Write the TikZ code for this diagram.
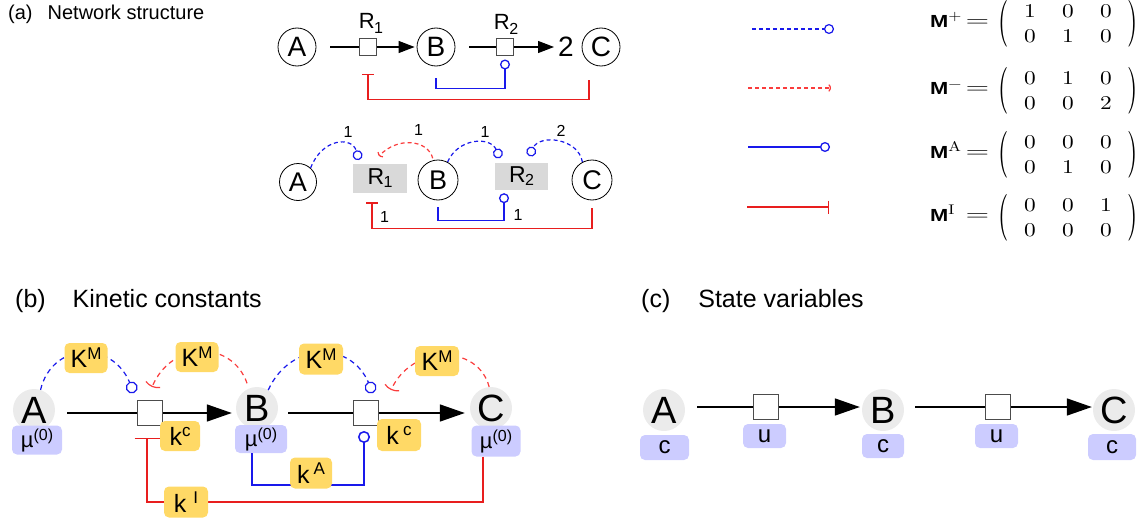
\documentclass[tikz,border=0pt]{standalone}
\usepackage[no-math]{fontspec}
\setmainfont{Liberation Sans}
\newfontfamily\lmr{lmroman10-regular.otf}
\usepackage{graphicx}
\usetikzlibrary{arrows.meta,calc}
\definecolor{bl}{RGB}{25,25,235}
\definecolor{rd}{RGB}{232,30,30}
\definecolor{rdl}{RGB}{250,60,60}
\definecolor{ycol}{RGB}{255,217,102}
\definecolor{lcol}{RGB}{204,204,255}
\definecolor{gcol}{RGB}{235,235,235}
\definecolor{gbcol}{RGB}{217,217,217}
\newcommand{\supr}[2]{\raisebox{#1}{\fontsize{17}{17}\selectfont #2}}
\newcommand{\subr}[2]{\raisebox{#1}{\fontsize{16}{16}\selectfont #2}}
\newcommand{\Mb}{\scalebox{1.25}[1]{\fontsize{17.5}{17.5}\selectfont\bfseries M}}
\newcommand{\muz}{\textmu\raisebox{7pt}{\fontsize{16}{16}\selectfont(0)}}
\newcommand{\msup}[1]{\raisebox{7pt}{\scalebox{1.2}[1]{\lmr\fontsize{14}{14}\selectfont #1}}}
\newcommand{\lpar}{\scalebox{1.1}[1.95]{\lmr\fontsize{24}{24}\selectfont (}}
\newcommand{\rpar}{\scalebox{1.1}[1.95]{\lmr\fontsize{24}{24}\selectfont )}}
\newcommand{\eqs}{\scalebox{1.6}[1]{\lmr\fontsize{19}{19}\selectfont =}}
\begin{document}
\begin{tikzpicture}[x=1pt,y=-1pt,
  txt/.style={inner sep=0pt},
  acirc/.style={circle, draw, line width=0.8pt, minimum size=38pt, inner sep=0pt, font=\fontsize{28}{28}\selectfont},
  gcirc/.style={circle, fill=gcol, minimum size=42pt, inner sep=0pt, font=\fontsize{38}{38}\selectfont},
  rsq/.style={draw=gray!60!black, fill=white, minimum size=#1, inner sep=0pt, line width=1pt},
  gbox/.style={fill=gbcol, minimum width=54pt, minimum height=29pt, inner sep=0pt, font=\fontsize{23}{23}\selectfont},
  ybox/.style={fill=ycol, rounded corners=5pt, inner sep=0pt, minimum width=43pt, minimum height=30pt, font=\fontsize{25}{25}\selectfont},
  lbox/.style={fill=lcol, rounded corners=5pt, inner sep=0pt, minimum width=50pt, minimum height=29pt, font=\fontsize{22}{22}\selectfont},
  cbox/.style={fill=lcol, rounded corners=5pt, inner sep=0pt, font=\fontsize{24}{24}\selectfont},
  num/.style={inner sep=0pt, font=\fontsize{16}{16}\selectfont},
  dig/.style={inner sep=0pt, font=\lmr\fontsize{19.5}{19.5}\selectfont},
  mlab/.style={inner sep=0pt, anchor=base west},
  par/.style={inner sep=0pt},
  rxa/.style={line width=1.2pt},
  mainl/.style={line width=1.6pt},
  bdash/.style={bl, line width=1.2pt, dash pattern=on 4pt off 3pt},
  rdash/.style={rdl, line width=1.2pt, dash pattern=on 4pt off 3pt},
  bsol/.style={bl, line width=1.3pt},
  rsol/.style={rd, line width=1.3pt},
  ocirc/.style={-{Circle[open,length=10pt,width=10pt]}},
  ocircB/.style={-{Circle[open,length=12pt,width=12pt]}},
  arcb/.style={-{Arc Barb[arc=100,length=5pt,width=10pt]}},
  arcbB/.style={-{Arc Barb[arc=60,length=16pt,width=32pt]}},
  tria/.style={-{Triangle[length=16pt,width=12pt]}},
  triB/.style={-{Triangle[length=25pt,width=17pt]}}
]
\useasboundingbox (0,0) rectangle (1148,527);

% ---------- titles
\node[txt, anchor=base west, font=\fontsize{20}{20}\selectfont] (ta) at (8,20) {(a)\hspace{15pt}Network structure};
\node[txt, anchor=base west, font=\fontsize{25}{25}\selectfont] (tb) at (15,307) {(b)\hspace{27pt}Kinetic constants};
\node[txt, anchor=base west, font=\fontsize{25}{25}\selectfont] (tc) at (641,307) {(c)\hspace{28pt}State variables};

% ---------- (a) top row
\node[acirc] (A1) at (297,47) {A};
\node[rsq=17pt] (R1) at (368,47) {};
\node[acirc] (B1) at (436,47) {B};
\node[rsq=17pt] (R2) at (505,47) {};
\node[acirc] (C1) at (601,47) {C};
\node[txt, font=\fontsize{28}{28}\selectfont] (two) at (566,47) {2};
\node[txt, font=\fontsize{22}{22}\selectfont] (lR1) at (371,23) {R\kern-0.5pt\subr{-5pt}{1}};
\node[txt, font=\fontsize{22}{22}\selectfont] (lR2) at (506,24) {R\kern-0.5pt\subr{-5pt}{2}};
\draw[rxa] ([xshift=14pt]A1.east) -- (R1.west);
\draw[rxa, tria] (R1.east) -- ([xshift=-2pt]B1.west);
\draw[rxa] ([xshift=14pt]B1.east) -- (R2.west);
\draw[rxa, tria] (R2.east) -- ([xshift=-4pt]two.west);
\draw[bsol, ocirc] ([yshift=-12pt]B1.south) -- ++(0,10) -| ([yshift=-3.5pt]R2.south);
\draw[rsol, -{Bar[width=12pt]}] ([xshift=-12pt,yshift=-14pt]C1.south) -- ++(0,19) -| ([yshift=-17.5pt]R1.south);

% ---------- (a) second row
\node[acirc, minimum size=37pt, font=\fontsize{27}{27}\selectfont] (A2) at (298,182) {A};
\node[gbox] (G1) at (380,178.5) {R\kern-0.5pt\subr{-3pt}{1}};
\node[acirc, minimum size=40pt, font=\fontsize{27}{27}\selectfont] (B2) at (438,180) {B};
\node[gbox, minimum width=53pt, minimum height=27pt] (G2) at (521.5,176.5) {R\kern-0.5pt\subr{-3pt}{2}};
\node[acirc, minimum size=40pt, font=\fontsize{27}{27}\selectfont] (C2) at (592,180) {C};
\coordinate (e1) at (359,160);
\coordinate (e2) at (379,156);
\coordinate (e3) at (500,158);
\coordinate (e4) at (529,156);
\draw[bdash, ocirc] (A2.48) .. controls (322,138) and (352,136) .. (e1);
\draw[rdash, arcb] ([yshift=2pt]B2.105) .. controls (428,140) and (398,136) .. (e2);
\draw[bdash, ocirc] (B2.62) .. controls (458,138) and (490,136) .. (e3);
\draw[bdash, ocirc] (C2.118) .. controls (578,138) and (540,134) .. (e4);
\node[num] (n1) at (348,132) {1};
\node[num] (n2) at (418.5,130) {1};
\node[num] (n3) at (485,132) {1};
\node[num] (n4) at (561,131) {2};
\draw[bsol, ocirc] ([yshift=-7pt]B2.south) -- ++(0,13) -| ([xshift=-17.5pt,yshift=-3pt]G2.south);
\draw[rsol, -{Bar[width=12pt]}] ([yshift=-8pt]C2.south) -- ++(0,20) -| ([xshift=-8pt,yshift=-9pt]G1.south);
\node[num] (n5) at (518,215) {1};
\node[num] (n6) at (384.5,216.5) {1};

% ---------- legend
\coordinate (l1a) at (752,29);  \coordinate (l1b) at (834,29);
\coordinate (l2a) at (748,88);  \coordinate (l2b) at (831,88);
\coordinate (l3a) at (748,147); \coordinate (l3b) at (830,147);
\coordinate (l4a) at (747,207); \coordinate (l4b) at (829,207);
\draw[bdash, ocirc] (l1a) -- (l1b);
\draw[rdash, arcb] (l2a) -- (l2b);
\draw[bsol, ocirc] (l3a) -- (l3b);
\draw[rsol, -{Bar[width=13pt]}] (l4a) -- (l4b);

% ---------- matrices
\foreach \nm/\yc/\sup/\a/\b/\c/\d/\e/\f in
  {Mp/24/+/1/0/0/0/1/0, Mm/91/\raisebox{-1pt}{\char"2212}/0/1/0/0/0/2,
   MA/155/A/0/0/0/0/1/0, MI/218/I/0/0/1/0/0/0}{
  \node[mlab] (\nm lab) at (930,\yc+3.5) {\Mb\msup{\sup}};
  \node[par] (\nm eq) at (977.5,\yc-1) {\eqs};
  \node[par] (\nm lp) at (1004,\yc) {\lpar};
  \node[par] (\nm rp) at (1133,\yc) {\rpar};
  \node[dig] (\nm a) at (1030,\yc-12.5) {\scalebox{1.2}[1]{\a}};
  \node[dig] (\nm b) at (1068,\yc-12.5) {\scalebox{1.2}[1]{\b}};
  \node[dig] (\nm c) at (1106,\yc-12.5) {\scalebox{1.2}[1]{\c}};
  \node[dig] (\nm d) at (1030,\yc+12.5) {\scalebox{1.2}[1]{\d}};
  \node[dig] (\nm e) at (1068,\yc+12.5) {\scalebox{1.2}[1]{\e}};
  \node[dig] (\nm f) at (1106,\yc+12.5) {\scalebox{1.2}[1]{\f}};
}

% ---------- (b)
\node[gcirc] (gA) at (34,410) {A};
\node[rsq=25pt] (rb1) at (150,413) {};
\node[gcirc] (gB) at (257,408) {B};
\node[rsq=25pt] (rb2) at (366,413) {};
\node[gcirc] (gC) at (491,408) {C};
\node[lbox] (muA) at (37,440) {\muz};
\node[lbox, minimum width=52pt, minimum height=28pt] (muB) at (261,439) {\muz};
\node[lbox, minimum width=49pt, minimum height=31pt] (muC) at (496,441) {\muz};
\draw[mainl] ([xshift=12pt]gA.east |- rb1.west) -- (rb1.west);
\draw[mainl, triB] (rb1.east) -- ([xshift=-4pt]gB.west |- rb1.east);
\draw[mainl] ([xshift=10pt]gB.east |- rb2.west) -- (rb2.west);
\draw[mainl, triB] (rb2.east) -- ([xshift=-5pt]gC.west |- rb2.east);
\coordinate (f1) at (134,393);
\coordinate (f2) at (152,387);
\coordinate (f3) at (373,393);
\coordinate (f4) at (391,390);
\draw[bdash, dash pattern=on 5pt off 4pt, ocircB] (gA.72) .. controls (52,342) and (112,340) .. (f1);
\draw[rdash, dash pattern=on 5pt off 4pt, arcbB] ([yshift=6pt]gB.118) .. controls (232,340) and (172,340) .. (f2);
\draw[bdash, dash pattern=on 5pt off 4pt, ocircB] (gB.58) .. controls (290,342) and (350,340) .. (f3);
\draw[rdash, dash pattern=on 5pt off 4pt, arcbB] (gC.95) .. controls (478,344) and (412,344) .. (f4);
\node[ybox] (KM1) at (86,358) {K\supr{8pt}{M}};
\node[ybox] (KM2) at (197,357) {K\supr{8pt}{M}};
\node[ybox, minimum width=44pt, minimum height=31pt] (KM3) at (321,359) {K\supr{8pt}{M}};
\node[ybox, minimum width=44pt] (KM4) at (437,361) {K\supr{8pt}{M}};
\draw[bsol, line width=1.5pt, ocircB] ([xshift=-9pt]muB.south) -- ++(0,32) -| ([xshift=-2pt,yshift=-5pt]rb2.south);
\draw[rsol, line width=1.5pt, -{Bar[width=25pt]}] ([xshift=-13pt]muC.south) -- ++(0,45.5) -| ([xshift=-3pt,yshift=-11.5pt]rb1.south);
\node[ybox, minimum width=40pt] (kc1) at (180,436) {k\supr{9pt}{c}};
\node[ybox, minimum width=44pt, minimum height=32pt] (kc2) at (399,435) {k\,\supr{9pt}{c}};
\node[ybox, minimum width=42pt, minimum height=31pt] (kA) at (311,473) {k\,\supr{9pt}{A}};
\node[ybox, minimum width=44pt, minimum height=31pt] (kI) at (186,502) {k\;\supr{9pt}{I}};

% ---------- (c)
\node[gcirc] (cA) at (664,410) {A};
\node[rsq=25pt] (rc1) at (765.5,407) {};
\node[gcirc] (cB) at (883,410) {B};
\node[rsq=25pt] (rc2) at (998,407) {};
\node[gcirc] (cC) at (1114,410) {C};
\draw[mainl] ([xshift=12pt]cA.east |- rc1.west) -- (rc1.west);
\draw[mainl, triB] (rc1.east) -- ([xshift=-2pt]cB.west |- rc1.east);
\draw[mainl] ([xshift=11pt]cB.east |- rc2.west) -- (rc2.west);
\draw[mainl, triB] (rc2.east) -- ([xshift=-1pt]cC.west |- rc2.east);
\node[cbox, minimum width=49pt, minimum height=25pt] (cbA) at (664.5,447.5) {c};
\node[cbox, minimum width=43pt, minimum height=24pt] (u1) at (764.5,436) {u};
\node[cbox, minimum width=42pt, minimum height=24pt] (cbB) at (883,446) {c};
\node[cbox, minimum width=43pt, minimum height=24pt] (u2) at (996.5,436) {u};
\node[cbox, minimum width=48pt, minimum height=26pt] (cbC) at (1112,447) {c};
\end{tikzpicture}
\end{document}
